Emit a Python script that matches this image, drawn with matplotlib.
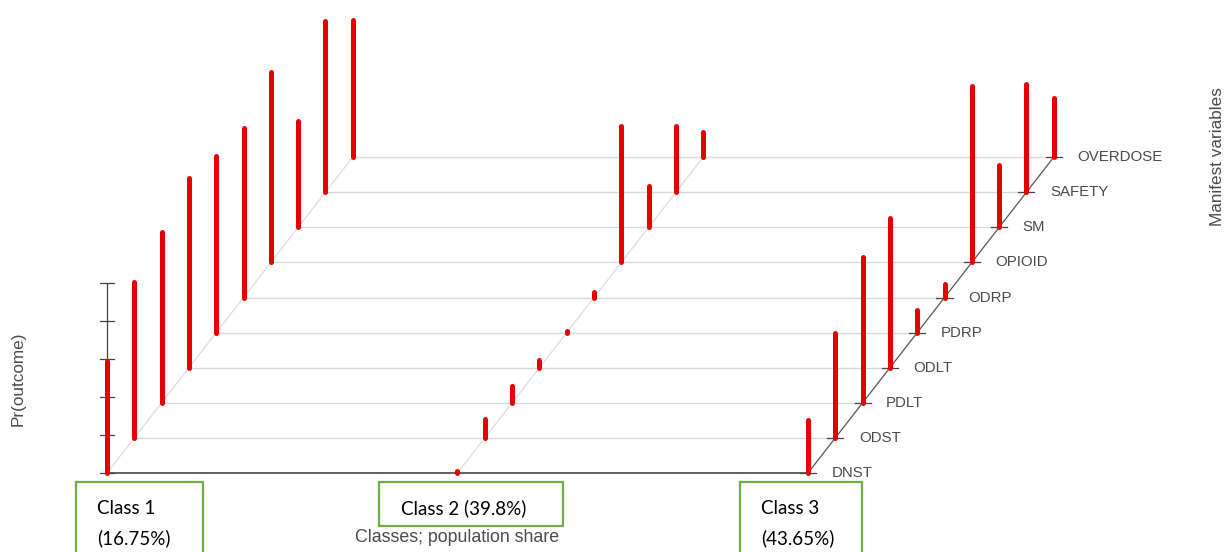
import matplotlib
matplotlib.use("Agg")
import matplotlib.pyplot as plt
from matplotlib.patches import Rectangle

# poLCA-style 3D plot of class-conditional response probabilities
variables = ["DNST", "ODST", "PDLT", "ODLT", "PDRP", "ODRP",
             "OPIOID", "SM", "SAFETY", "OVERDOSE"]
class_labels = [["Class 1", "(16.75%)"], ["Class 2 (39.8%)"], ["Class 3", "(43.65%)"]]
class1 = [0.59, 0.82, 0.90, 1.00, 0.93, 0.89, 1.00, 0.56, 0.90, 0.72]
class2 = [0.01, 0.10, 0.09, 0.04, 0.01, 0.03, 0.72, 0.22, 0.35, 0.13]
class3 = [0.28, 0.55, 0.77, 0.79, 0.12, 0.07, 0.93, 0.33, 0.57, 0.31]
prob_ticks = [0.0, 0.2, 0.4, 0.6, 0.8, 1.0]

# oblique projection: each variable row shifts right and up
DX = 0.0779
DY = 0.1847


def proj(c, v, p):
    return c + v * DX, v * DY + p


W, H = 1228, 552
fig = plt.figure(figsize=(W / 100, H / 100), dpi=100)
ax = fig.add_axes([0, 0, 1, 1])
ax.axis("off")
ax.set_xlim(-107 / 350.5, (W - 107) / 350.5)
ax.set_ylim((473 - H) / 190, 473 / 190)

nvar = len(variables)
grey_txt = "#4a4a4a"

# horizontal row lines
for v in range(nvar):
    x0, y0 = proj(0, v, 0)
    x1, y1 = proj(2, v, 0)
    if v == 0:
        ax.plot([x0, x1], [y0, y1], color="#555555", lw=1.3, zorder=1)
    else:
        ax.plot([x0, x1], [y0, y1], color="#d9d9d9", lw=1.0, zorder=1)

# diagonal lines through each class
for c in range(3):
    xs, ys = zip(*[proj(c, v, 0) for v in range(nvar)])
    if c == 2:
        ax.plot(xs, ys, color="#555555", lw=0.9, zorder=1)
    else:
        ax.plot(xs, ys, color="#ead8d8", lw=0.9, zorder=1)

# ticks and labels on the class 3 diagonal
for v, name in enumerate(variables):
    x, y = proj(2, v, 0)
    ax.plot([x - 0.023, x + 0.023], [y, y], color="#444444", lw=0.9, zorder=2)
    ax.annotate(name, (x, y), xytext=(17, 0), textcoords="offset points",
                ha="left", va="center", fontsize=10.8, color=grey_txt,
                family="Liberation Sans")

# vertical probability axis at the first class
x, y = proj(0, 0, 0)
ax.plot([x, x], [y, y + 1.0], color="#444444", lw=0.9, zorder=2)
for t in prob_ticks:
    ax.plot([x - 0.021, x + 0.021], [y + t, y + t], color="#444444", lw=0.9, zorder=2)

# probability bars
for c, probs in enumerate([class1, class2, class3]):
    for v, p in enumerate(probs):
        bx, by = proj(c, v, 0)
        ax.plot([bx, bx], [by, by + p], color="#e60000", lw=3.6,
                solid_capstyle="round", zorder=3)

# axis titles
fig.text(18 / W, 1 - 379 / H, "Pr(outcome)", rotation=90, ha="center", va="center",
         fontsize=12.3, color=grey_txt, family="Liberation Sans")
fig.text(1218 / W, 1 - 157 / H, "Manifest variables", rotation=90, ha="center",
         va="center", fontsize=12.3, color=grey_txt, family="Liberation Sans")
fig.text(457 / W, 1 - 538 / H, "Classes; population share", ha="center", va="center",
         fontsize=12.8, color=grey_txt, family="Liberation Sans")

# green boxes with class shares
boxes = [(76, 482, 203, 560), (379, 482, 563, 526), (740, 482, 862, 560)]
text_x = [97, 401, 761]
for (l, t, r, b), tx, lines in zip(boxes, text_x, class_labels):
    fig.patches.append(Rectangle((l / W, 1 - b / H), (r - l) / W, (b - t) / H,
                                 transform=fig.transFigure, fill=False,
                                 edgecolor="#70ad47", lw=1.6))
    for i, line in enumerate(lines):
        fig.text(tx / W, 1 - (508 + 30 * i) / H, line, ha="left", va="center",
                 fontsize=13.5, color="black", family="Lato")

fig.savefig("out.png", dpi=100, facecolor="white")
